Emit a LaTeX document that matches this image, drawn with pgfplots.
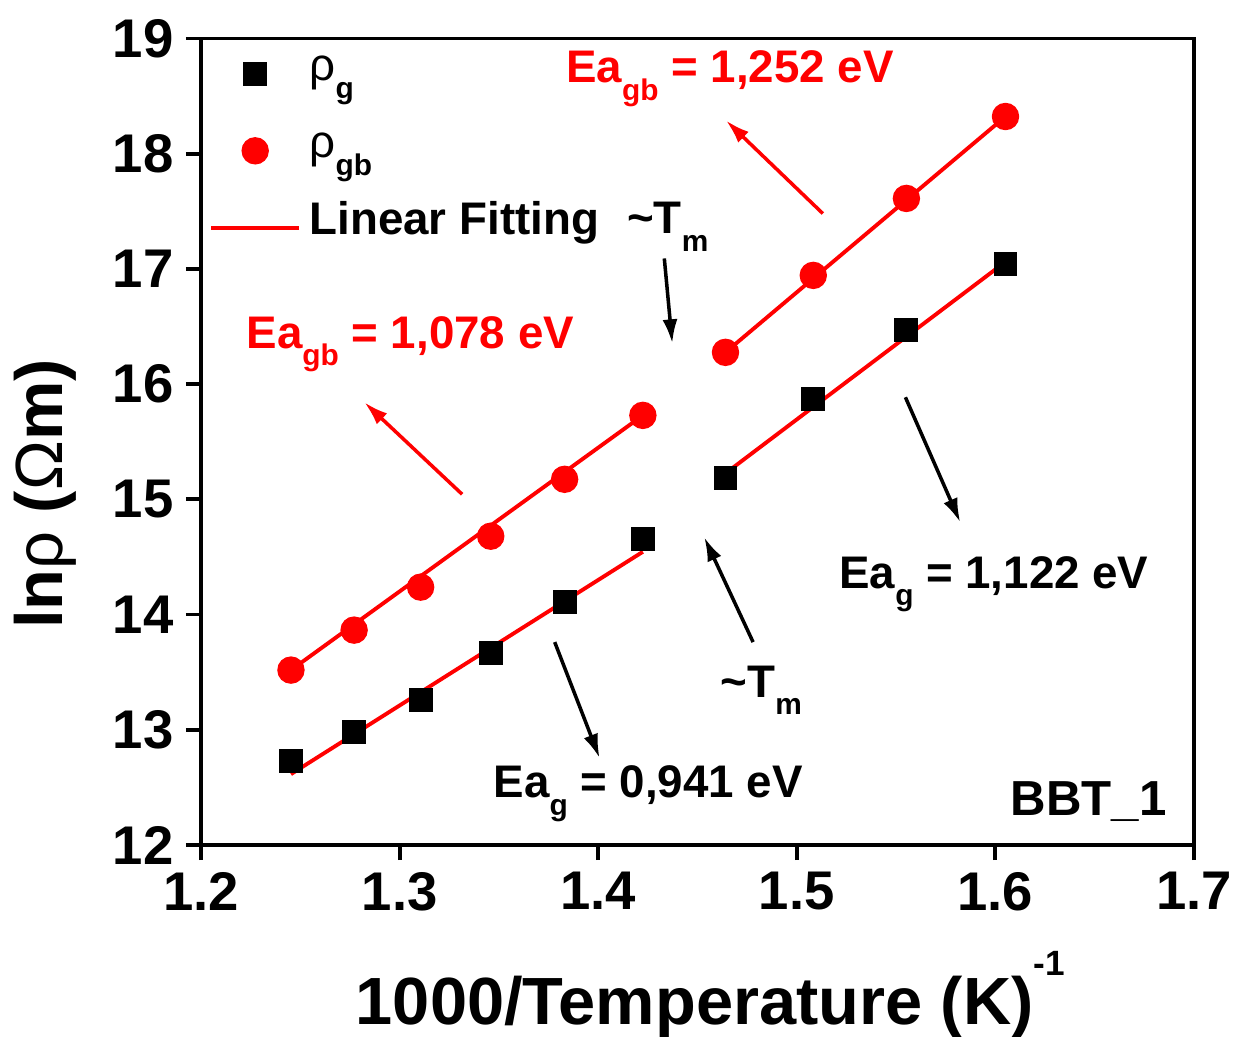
\documentclass[border=0pt]{standalone}
\usepackage{fontspec}
\setmainfont{Liberation Sans}
\usepackage{pgfplots}
\pgfplotsset{compat=1.18}
\usetikzlibrary{arrows.meta}

\newcommand{\sub}[1]{\raisebox{-5pt}{\fontsize{8.5}{9}\selectfont #1}}
\newcommand{\annfont}{\fontsize{13}{15}\selectfont\bfseries}
\newcommand{\gr}[1]{{\mdseries #1}}
\pgfplotsset{
 markleg/.style={legend image code/.code={\draw[mark repeat=2,mark phase=2,##1] plot coordinates {(0cm,0cm) (0.44cm,0cm) (0.88cm,0cm)};}},
 lineleg/.style={legend image code/.code={\draw[##1] (0cm,0cm) -- (0.88cm,0cm);}},
}

\begin{document}
\begin{tikzpicture}
\begin{axis}[
 at={(0,0)}, anchor=south west,
 scale only axis, width=9.93cm, height=8.065cm,
 xmin=1.2, xmax=1.7, ymin=12, ymax=19,
 xtick={1.2,1.3,1.4,1.5,1.6,1.7}, ytick={12,13,14,15,16,17,18,19},
 xtick pos=bottom, ytick pos=left, tick align=outside,
 major tick length=4.3pt, minor tick num=0,
 axis line style={line width=1.1pt}, every tick/.style={line width=1.1pt, black},
 tick label style={font=\fontsize{15.5}{17}\selectfont\bfseries, /pgf/number format/assume math mode=true},
 xticklabel style={/pgf/number format/.cd, fixed, fixed zerofill, precision=1},
 xlabel={1000/Temperature (K)\raisebox{14pt}{\fontsize{10}{10}\selectfont -1}},
 ylabel={ln\gr{ρ} (\gr{Ω}m)},
 label style={font=\fontsize{19}{21}\selectfont\bfseries},
 xlabel style={at={(axis description cs:0.513,-0.2232)}, anchor=base},
 ylabel style={at={(axis description cs:-0.139,0.435)}, anchor=base},
 clip=false,
 legend cell align=left,
 legend style={draw=none, fill=none, font=\fontsize{13}{15}\selectfont\bfseries,
   at={(axis cs:1.1985,19.035)}, anchor=north west, row sep=3.9pt,
   nodes={inner sep=1pt, text height=10pt, text depth=6pt},
   /tikz/every odd column/.append style={column sep=0.5mm}},
]
% rho_g
\addplot[only marks, mark=square*, mark size=3.2pt, black, markleg]
 coordinates {(1.2453,12.729) (1.2771,12.980) (1.3106,13.258) (1.3459,13.665) (1.3831,14.108)
              (1.4225,14.654) (1.4641,15.183) (1.5083,15.868) (1.5552,16.467) (1.6051,17.039)};
\addlegendentry{\gr{ρ}\sub{g}}
% rho_gb
\addplot[only marks, mark=*, mark size=3.7pt, red, markleg]
 coordinates {(1.2453,13.518) (1.2771,13.865) (1.3106,14.238) (1.3459,14.680) (1.3831,15.174)
              (1.4225,15.729) (1.4641,16.276) (1.5083,16.944) (1.5552,17.612) (1.6051,18.323)};
\addlegendentry{\gr{ρ}\sub{gb}}
% linear fits
\addplot[red, line width=1.1pt, no marks, lineleg]
 coordinates {(1.2453,12.615) (1.4225,14.545)};
\addlegendentry{Linear Fitting}
\addplot[red, line width=1.1pt, no marks, forget plot] coordinates {(1.4641,15.226) (1.6051,17.062)};
\addplot[red, line width=1.1pt, no marks, forget plot] coordinates {(1.2453,13.518) (1.4225,15.729)};
\addplot[red, line width=1.1pt, no marks, forget plot] coordinates {(1.4641,16.276) (1.6051,18.323)};

% annotations
\begin{scope}[line width=1pt, -{Latex[length=2.4mm,width=1.5mm]}]
\draw[red] (axis cs:1.3315,15.044) -- (axis cs:1.2823,15.842);
\draw[red] (axis cs:1.5131,17.481) -- (axis cs:1.4644,18.288);
\draw[black] (axis cs:1.4333,17.091) -- (axis cs:1.4373,16.354);
\draw[black] (axis cs:1.4780,13.761) -- (axis cs:1.4534,14.671);
\draw[black] (axis cs:1.3781,13.761) -- (axis cs:1.4007,12.755);
\draw[black] (axis cs:1.5547,15.886) -- (axis cs:1.5823,14.801);
\end{scope}
\begin{scope}[every node/.style={anchor=base west, inner sep=0pt, font=\annfont}]
\node[red] at (axis cs:1.3836,18.617) {Ea\sub{gb} = 1,252 eV};
\node[red] at (axis cs:1.2226,16.310) {Ea\sub{gb} = 1,078 eV};
\node at (axis cs:1.4143,17.308) {\textasciitilde T\sub{m}};
\node at (axis cs:1.4614,13.284) {\textasciitilde T\sub{m}};
\node at (axis cs:1.3470,12.408) {Ea\sub{g} = 0,941 eV};
\node at (axis cs:1.5211,14.229) {Ea\sub{g} = 1,122 eV};
\node[font=\fontsize{14}{16}\selectfont\bfseries] at (axis cs:1.6074,12.260) {BBT\_1};
\end{scope}
\end{axis}
\pgfresetboundingbox
\path (-2.01cm,-1.92cm) rectangle (10.42cm,8.45cm);
\end{tikzpicture}
\end{document}
